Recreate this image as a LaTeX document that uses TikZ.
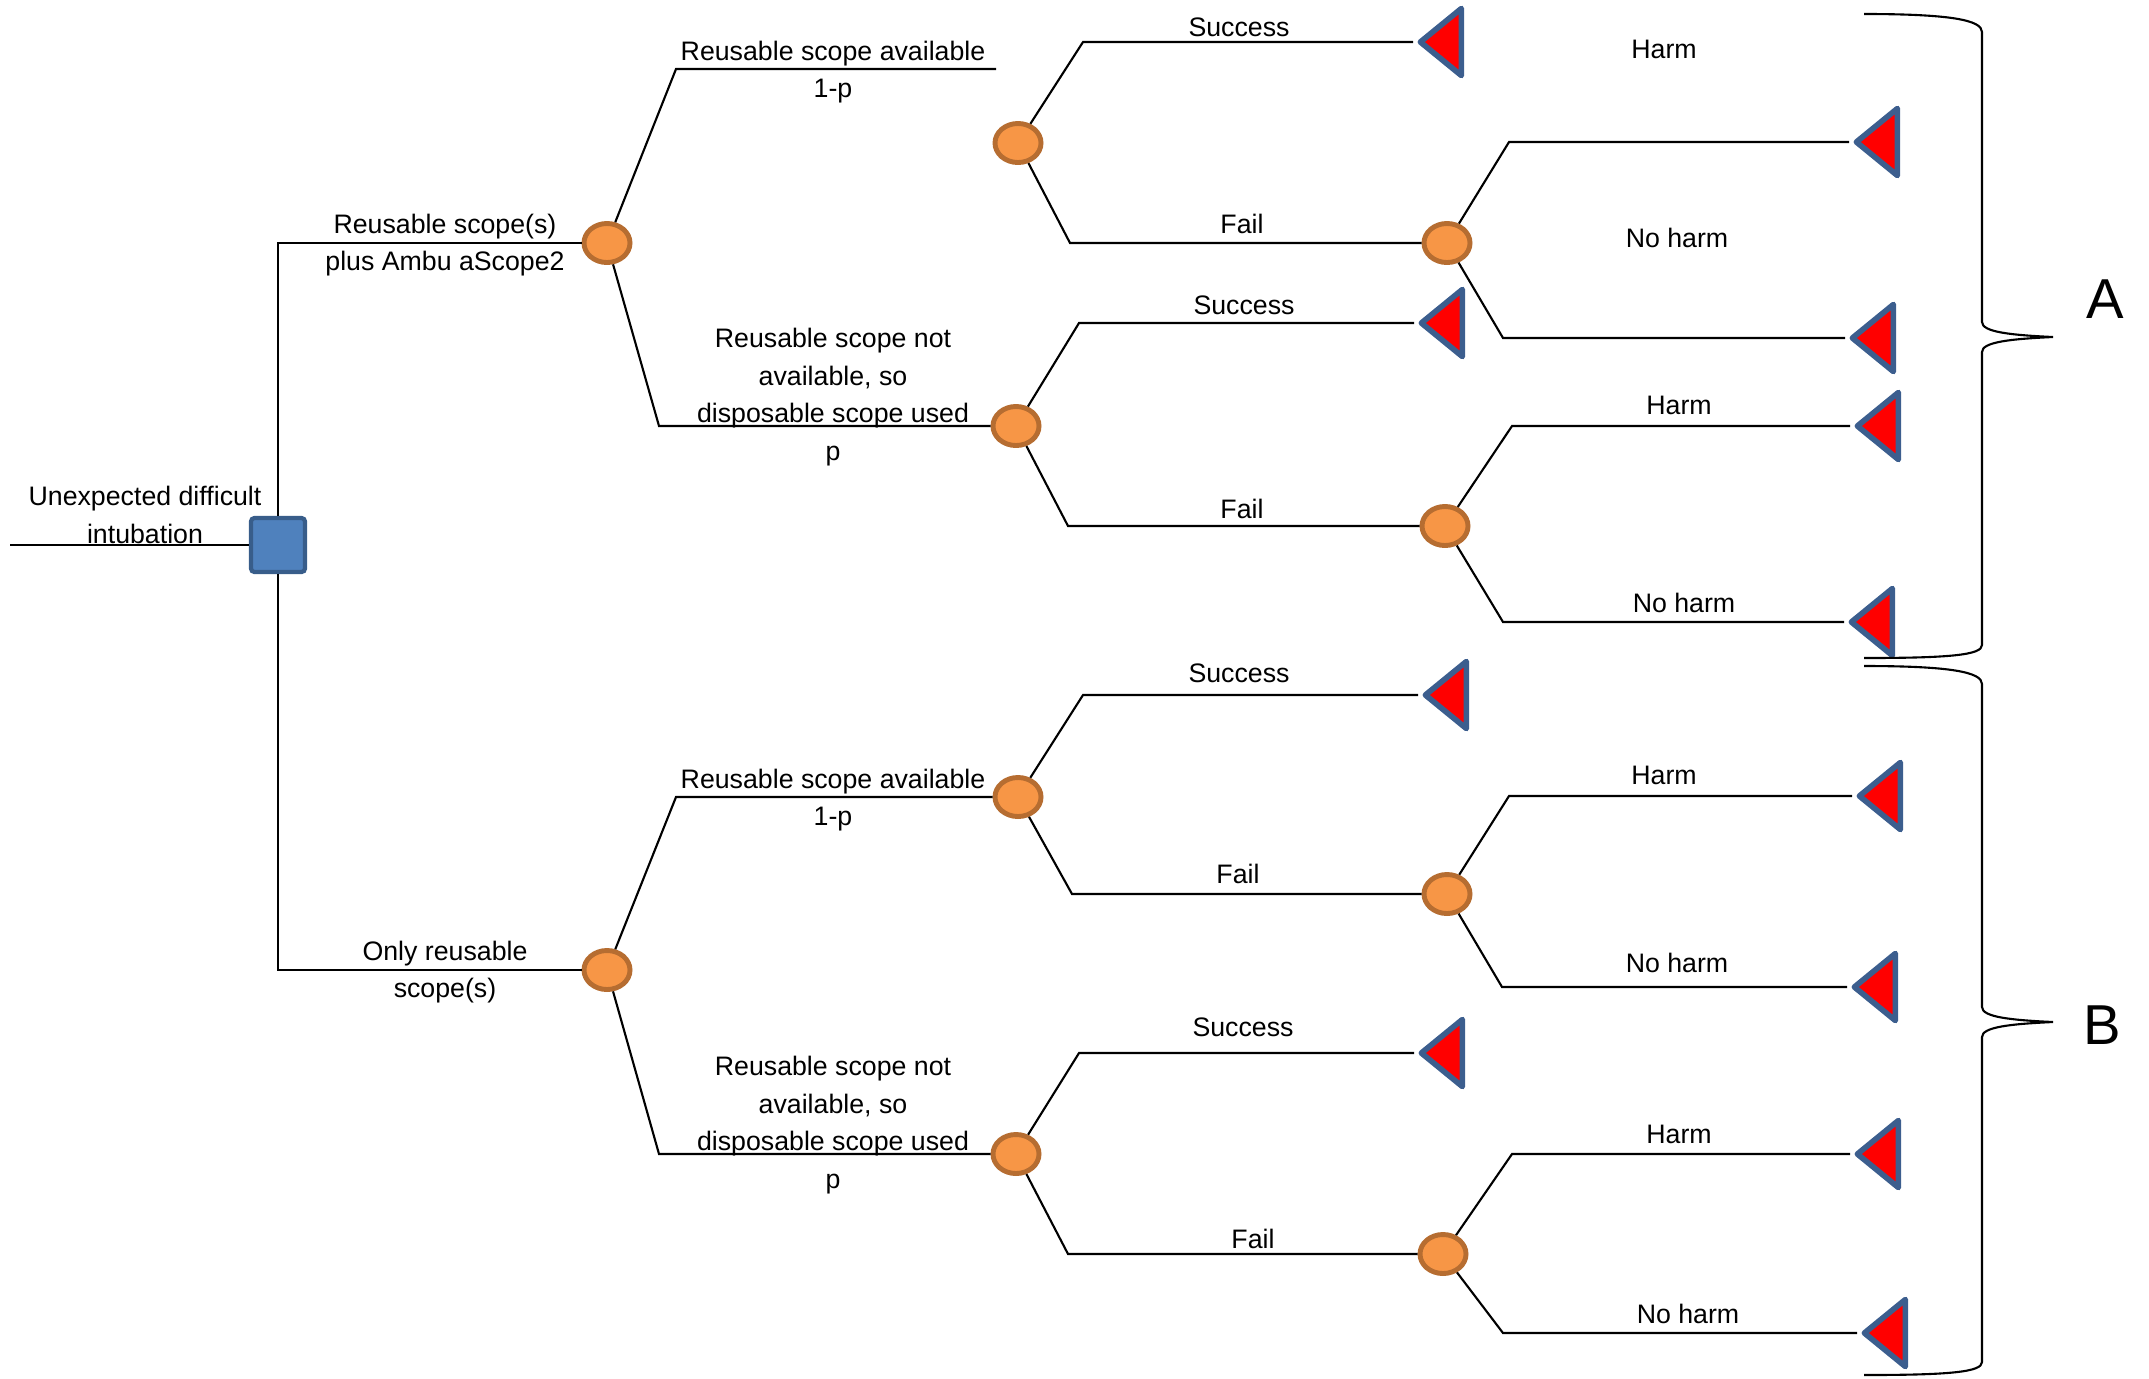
\documentclass[tikz,border=0pt]{standalone}
\usepackage{fontspec}
\setmainfont{Liberation Sans}
\usetikzlibrary{shapes.geometric}

\definecolor{chancefill}{HTML}{F79646}
\definecolor{chanceline}{HTML}{B66D31}
\definecolor{decfill}{HTML}{4F81BD}
\definecolor{decline}{HTML}{385D8A}
\definecolor{termline}{HTML}{3C5E8E}

\begin{document}
\begin{tikzpicture}[
			x=0.01cm, y=-0.01cm,
			branch/.style={line width=0.6pt},
			chance/.style={ellipse, draw=chanceline, fill=chancefill, line width=1.4pt, minimum width=0.46cm, minimum height=0.39cm, inner sep=0pt},
			decision/.style={rectangle, draw=decline, fill=decfill, line width=1.2pt, minimum size=0.54cm, rounded corners=1pt, inner sep=0pt},
			terminal/.style={isosceles triangle, isosceles triangle stretches, shape border rotate=180, draw=termline, fill=red, line width=1.6pt, line join=round, minimum width=0.67cm, minimum height=0.41cm, inner sep=0pt, anchor=apex},
			lab/.style={font=\fontsize{7.6}{10.7}\selectfont, align=center, inner sep=0pt},
			brace/.style={line width=0.6pt},
			big/.style={font=\fontsize{16}{19}\selectfont, inner sep=0pt}
			]
			\useasboundingbox (0,0) rectangle (2149,1378);
			
			% --------------------------------------------------------------------
			% decision (root)
			% --------------------------------------------------------------------
			\coordinate (start) at (10,545);
			\node[decision] (D) at (278,545) {};
			\node[lab] (rootlab) at (145,515) {Unexpected difficult\\intubation};
			\draw[branch] (start) -- (D);
			
			\coordinate (ktop) at (278,243);
			\coordinate (kbot) at (278,970);
			
			\node[chance] (C1) at (607,243) {};
			\node[chance] (C3) at (607,970) {};
			
			\draw[branch] (D) -- (ktop) -- (C1);
			\draw[branch] (D) -- (kbot) -- (C3);
			
			\node[lab] at (445,245) {Reusable scope(s)\\plus Ambu aScope2};
			\node[lab] at (445,972) {Only reusable\\scope(s)};
			
			% --------------------------------------------------------------------
			% A: reusable scope(s) plus Ambu aScope2
			% --------------------------------------------------------------------
			\coordinate (c1up) at (676,69);
			\coordinate (c1upend) at (996,69);
			\coordinate (c1dn) at (659,426);
			
			\node[chance] (C1a) at (1018,143) {};
			\node[chance] (C2) at (1016,426) {};
			
			\draw[branch] (C1) -- (c1up) -- (c1upend);
			\draw[branch] (C1) -- (c1dn) -- (C2);
			
			\node[lab] at (833,72) {Reusable scope available\\1-p};
			\node[lab] at (833,397) {Reusable scope not\\available, so\\disposable scope used\\p};
			
			% scope available
			\coordinate (aup) at (1083,42);
			\coordinate (adn) at (1070,243);
			\node[terminal] (T1) at (1413,42) {};
			\node[chance] (C1aF) at (1447,243) {};
			\draw[branch] (C1a) -- (aup) -- (T1);
			\draw[branch] (C1a) -- (adn) -- (C1aF);
			\node[lab] at (1239,27) {Success};
			\node[lab] at (1242,224) {Fail};
			
			\coordinate (afup) at (1509,142);
			\coordinate (afdn) at (1503,338);
			\node[terminal] (T2) at (1849,142) {};
			\node[terminal] (T3) at (1845,338) {};
			\draw[branch] (C1aF) -- (afup) -- (T2);
			\draw[branch] (C1aF) -- (afdn) -- (T3);
			\node[lab] at (1664,49) {Harm};
			\node[lab] at (1677,238) {No harm};
			
			% scope not available
			\coordinate (bup) at (1079,323);
			\coordinate (bdn) at (1068,526);
			\node[terminal] (T4) at (1414,323) {};
			\node[chance] (C2F) at (1445,526) {};
			\draw[branch] (C2) -- (bup) -- (T4);
			\draw[branch] (C2) -- (bdn) -- (C2F);
			\node[lab] at (1244,305) {Success};
			\node[lab] at (1242,509) {Fail};
			
			\coordinate (bfup) at (1512,426);
			\coordinate (bfdn) at (1503,622);
			\node[terminal] (T5) at (1850,426) {};
			\node[terminal] (T6) at (1844,622) {};
			\draw[branch] (C2F) -- (bfup) -- (T5);
			\draw[branch] (C2F) -- (bfdn) -- (T6);
			\node[lab] at (1679,405) {Harm};
			\node[lab] at (1684,603) {No harm};
			
			% --------------------------------------------------------------------
			% B: only reusable scope(s)
			% --------------------------------------------------------------------
			\coordinate (c3up) at (676,797);
			\coordinate (c3dn) at (659,1154);
			
			\node[chance] (C4) at (1018,797) {};
			\node[chance] (C5) at (1016,1154) {};
			
			\draw[branch] (C3) -- (c3up) -- (C4);
			\draw[branch] (C3) -- (c3dn) -- (C5);
			
			\node[lab] at (833,800) {Reusable scope available\\1-p};
			\node[lab] at (833,1125) {Reusable scope not\\available, so\\disposable scope used\\p};
			
			% scope available
			\coordinate (cup) at (1083,695);
			\coordinate (cdn) at (1072,894);
			\node[terminal] (T7) at (1418,695) {};
			\node[chance] (C4F) at (1447,894) {};
			\draw[branch] (C4) -- (cup) -- (T7);
			\draw[branch] (C4) -- (cdn) -- (C4F);
			\node[lab] at (1239,673) {Success};
			\node[lab] at (1238,874) {Fail};
			
			\coordinate (cfup) at (1509,796);
			\coordinate (cfdn) at (1502,987);
			\node[terminal] (T8) at (1852,796) {};
			\node[terminal] (T9) at (1847,987) {};
			\draw[branch] (C4F) -- (cfup) -- (T8);
			\draw[branch] (C4F) -- (cfdn) -- (T9);
			\node[lab] at (1664,775) {Harm};
			\node[lab] at (1677,963) {No harm};
			
			% scope not available
			\coordinate (dup) at (1079,1053);
			\coordinate (ddn) at (1068,1254);
			\node[terminal] (T10) at (1414,1053) {};
			\node[chance] (C5F) at (1443,1254) {};
			\draw[branch] (C5) -- (dup) -- (T10);
			\draw[branch] (C5) -- (ddn) -- (C5F);
			\node[lab] at (1243,1027) {Success};
			\node[lab] at (1253,1239) {Fail};
			
			\coordinate (dfup) at (1512,1154);
			\coordinate (dfdn) at (1503,1333);
			\node[terminal] (T11) at (1850,1154) {};
			\node[terminal] (T12) at (1857,1333) {};
			\draw[branch] (C5F) -- (dfup) -- (T11);
			\draw[branch] (C5F) -- (dfdn) -- (T12);
			\node[lab] at (1679,1134) {Harm};
			\node[lab] at (1688,1314) {No harm};
			
			% --------------------------------------------------------------------
			% braces
			% --------------------------------------------------------------------
			\draw[brace] (1864,14) .. controls (1950,14) and (1982,20) .. (1982,32)
				-- (1982,322) .. controls (1982,332) and (2010,335) .. (2053,337)
				.. controls (2010,339) and (1982,342) .. (1982,352)
				-- (1982,645) .. controls (1982,655) and (1950,658) .. (1864,658);
			\node[big] (A) at (2105,299) {A};
			
			\draw[brace] (1864,666) .. controls (1950,666) and (1982,672) .. (1982,684)
				-- (1982,1007) .. controls (1982,1017) and (2010,1020) .. (2053,1022)
				.. controls (2010,1024) and (1982,1027) .. (1982,1037)
				-- (1982,1362) .. controls (1982,1372) and (1950,1375) .. (1864,1375);
			\node[big] (B) at (2102,1025) {B};
			
		\end{tikzpicture}
\end{document}
